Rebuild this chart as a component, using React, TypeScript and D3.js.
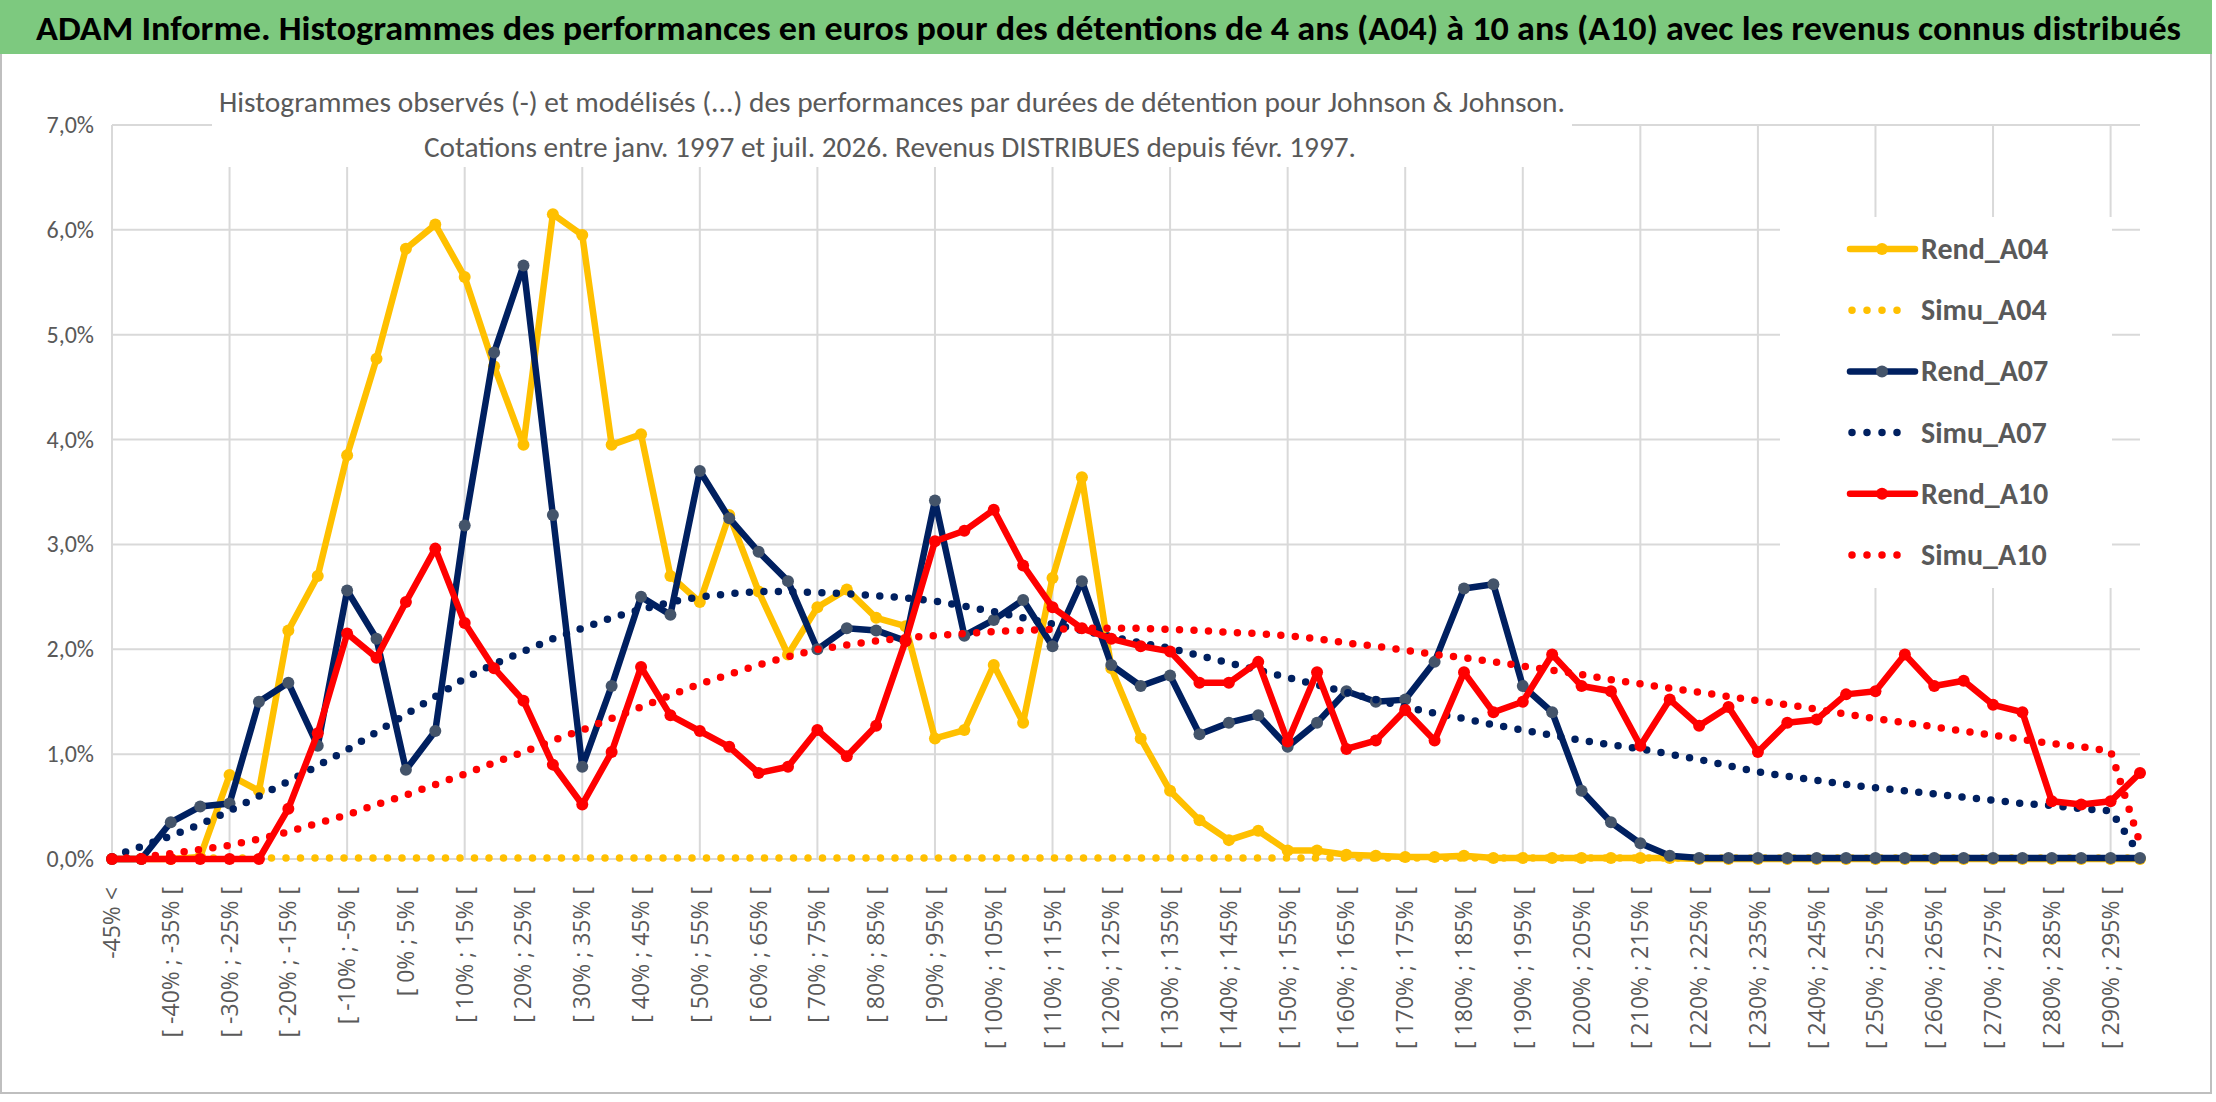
import React, { useEffect } from 'react';
import * as d3 from 'd3';

const W = 2216;
const H = 1102;

const categories: string[] = ['-45% <'];
for (let lo = -45; lo < 300; lo += 5) categories.push(`[ ${lo}% ; ${lo + 5}% [`);

const rendA04 = [0, 0, 0, 0.02, 0.8, 0.65, 2.18, 2.7, 3.85, 4.77, 5.82, 6.05, 5.55, 4.7, 3.95, 6.15, 5.95, 3.95, 4.05, 2.7,
  2.45, 3.28, 2.55, 1.95, 2.4, 2.57, 2.3, 2.22, 1.15, 1.23, 1.85, 1.3, 2.68, 3.64, 1.82, 1.15, 0.65, 0.37, 0.18, 0.27,
  0.08, 0.08, 0.04, 0.03, 0.02, 0.02, 0.03, 0.01, 0.01, 0.01, 0.01, 0.01, 0.01, 0.01, 0, 0, 0, 0, 0, 0,
  0, 0, 0, 0, 0, 0, 0, 0, 0, 0];
const simuA04 = categories.map(() => 0.01);
const rendA07 = [0, 0, 0.35, 0.5, 0.53, 1.5, 1.68, 1.08, 2.56, 2.1, 0.85, 1.22, 3.18, 4.83, 5.66, 3.28, 0.88, 1.65, 2.5, 2.33,
  3.7, 3.25, 2.93, 2.65, 2.0, 2.2, 2.18, 2.08, 3.42, 2.13, 2.28, 2.47, 2.03, 2.65, 1.85, 1.65, 1.75, 1.19, 1.3, 1.37,
  1.07, 1.3, 1.6, 1.5, 1.52, 1.88, 2.58, 2.62, 1.65, 1.4, 0.65, 0.35, 0.15, 0.03, 0.01, 0.01, 0.01, 0.01, 0.01, 0.01,
  0.01, 0.01, 0.01, 0.01, 0.01, 0.01, 0.01, 0.01, 0.01, 0.01];
const simuA07 = [0.02, 0.12, 0.22, 0.33, 0.46, 0.6, 0.74, 0.89, 1.04, 1.21, 1.38, 1.55, 1.72, 1.86, 1.98, 2.1, 2.2, 2.3, 2.38, 2.45,
  2.5, 2.53, 2.55, 2.55, 2.54, 2.53, 2.51, 2.49, 2.46, 2.41, 2.36, 2.3, 2.24, 2.18, 2.12, 2.06, 2.01, 1.94, 1.87, 1.8,
  1.73, 1.66, 1.59, 1.52, 1.45, 1.39, 1.34, 1.28, 1.23, 1.18, 1.13, 1.09, 1.05, 1.0, 0.95, 0.89, 0.83, 0.79, 0.75, 0.71,
  0.68, 0.65, 0.62, 0.59, 0.56, 0.53, 0.51, 0.48, 0.46, 0.04];
const rendA10 = [0, 0, 0, 0, 0, 0, 0.48, 1.2, 2.15, 1.92, 2.45, 2.96, 2.25, 1.82, 1.51, 0.9, 0.52, 1.02, 1.83, 1.37,
  1.22, 1.07, 0.82, 0.88, 1.23, 0.98, 1.27, 2.08, 3.03, 3.13, 3.33, 2.8, 2.4, 2.2, 2.1, 2.03, 1.98, 1.68, 1.68, 1.88,
  1.12, 1.78, 1.05, 1.13, 1.42, 1.13, 1.78, 1.4, 1.5, 1.95, 1.65, 1.6, 1.08, 1.52, 1.27, 1.45, 1.02, 1.3, 1.33, 1.57,
  1.6, 1.95, 1.65, 1.7, 1.47, 1.4, 0.55, 0.52, 0.55, 0.82];
const simuA10 = [0, 0.02, 0.05, 0.09, 0.13, 0.19, 0.26, 0.34, 0.42, 0.52, 0.61, 0.71, 0.81, 0.92, 1.02, 1.13, 1.23, 1.34, 1.45, 1.56,
  1.67, 1.76, 1.85, 1.93, 2.0, 2.04, 2.08, 2.11, 2.13, 2.15, 2.17, 2.18, 2.19, 2.2, 2.2, 2.2, 2.19, 2.18, 2.16, 2.15,
  2.13, 2.1, 2.06, 2.03, 1.99, 1.95, 1.92, 1.88, 1.84, 1.8, 1.76, 1.71, 1.67, 1.63, 1.59, 1.55, 1.51, 1.47, 1.43, 1.38,
  1.34, 1.3, 1.26, 1.22, 1.18, 1.14, 1.1, 1.07, 1.03, 0.15];

const yTicks = [0, 1, 2, 3, 4, 5, 6, 7];

const series = [
  { name: 'Rend_A04', values: rendA04, color: '#ffc000', marker: '#ffc000', dotted: false },
  { name: 'Simu_A04', values: simuA04, color: '#ffc000', marker: '', dotted: true },
  { name: 'Rend_A07', values: rendA07, color: '#002060', marker: '#44546a', dotted: false },
  { name: 'Simu_A07', values: simuA07, color: '#002060', marker: '', dotted: true },
  { name: 'Rend_A10', values: rendA10, color: '#ff0000', marker: '#ff0000', dotted: false },
  { name: 'Simu_A10', values: simuA10, color: '#ff0000', marker: '', dotted: true },
];

const title = 'ADAM Informe. Histogrammes des performances en euros pour des détentions de 4 ans (A04) à 10 ans (A10) avec les revenus connus distribués';
const sub1 = 'Histogrammes observés (-) et modélisés (...) des performances par durées de détention pour Johnson & Johnson.';
const sub2 = 'Cotations entre janv. 1997 et juil. 2026. Revenus DISTRIBUES depuis févr. 1997.';

export default function App() {
  useEffect(() => {
    document.body.style.margin = '0';
  }, []);

  const x = d3.scalePoint<number>().domain(d3.range(categories.length)).range([112, 2140]);
  const y = d3.scaleLinear().domain([0, 7]).range([859, 125]);
  const line = d3.line<number>().x((_, i) => x(i) as number).y(d => y(d));
  const font = 'Calibri, "Open Sans", "Noto Sans", sans-serif';
  const grey = '#595959';

  return (
    <svg width={W} height={H} style={{ display: 'block', fontFamily: font }}>
      <rect x={0} y={0} width={W} height={H} fill="#fff" />
      <rect x={1} y={1} width={W - 6} height={H - 10} fill="none" stroke="#bfbfbf" strokeWidth={2} />
      <rect x={0} y={0} width={W - 4} height={54} fill="#7dc97f" />
      <text x={36} y={40} fontSize={34} fontWeight={700} fill="#000" textLength={2145} lengthAdjust="spacingAndGlyphs">{title}</text>

      {yTicks.map(t => (
        <g key={t}>
          <line x1={112} x2={2140} y1={y(t)} y2={y(t)} stroke="#d9d9d9" strokeWidth={2} />
          <text x={94} y={y(t) + 8} fontSize={24} fill={grey} textAnchor="end">{t.toFixed(1).replace('.', ',')}%</text>
        </g>
      ))}
      {d3.range(0, categories.length, 4).map(i => (
        <line key={i} x1={x(i)} x2={x(i)} y1={y(7)} y2={y(0)} stroke="#d9d9d9" strokeWidth={2} />
      ))}
      {categories.map((c, i) => i % 2 === 0 ? (
        <text key={c} transform={`translate(${(x(i) as number) + 8},887) rotate(-90)`} fontSize={23} fill={grey}
          textAnchor="end" fontFamily='"Open Sans", sans-serif'>{c}</text>
      ) : null)}

      <rect x={212} y={75} width={1360} height={92} fill="#fff" />
      <text x={892} y={112} fontSize={29} fill={grey} textAnchor="middle" textLength={1346} lengthAdjust="spacingAndGlyphs">{sub1}</text>
      <text x={890} y={157} fontSize={29} fill={grey} textAnchor="middle" textLength={932} lengthAdjust="spacingAndGlyphs">{sub2}</text>

      <rect x={1780} y={217} width={332} height={371} fill="#fff" />

      {series.map(s => (
        <g key={s.name}>
          <path d={line(s.values) as string} fill="none" stroke={s.color}
            strokeWidth={s.dotted ? 7.5 : 6.5} strokeLinecap="round" strokeLinejoin="round"
            strokeDasharray={s.dotted ? '0 14.5' : undefined} />
          {!s.dotted && s.values.map((v, i) => (
            <circle key={i} cx={x(i)} cy={y(v)} r={6} fill={s.marker} />
          ))}
        </g>
      ))}

      {series.map((s, k) => {
        const ly = 249 + k * 61.2;
        return (
          <g key={s.name}>
            {s.dotted ? (
              <line x1={1852} x2={1912} y1={ly} y2={ly} stroke={s.color} strokeWidth={7.5} strokeLinecap="round" strokeDasharray="0 15" />
            ) : (
              <>
                <line x1={1850} x2={1915} y1={ly} y2={ly} stroke={s.color} strokeWidth={6.5} strokeLinecap="round" />
                <circle cx={1882} cy={ly} r={6} fill={s.marker} />
              </>
            )}
            <text x={1921} y={ly + 10} fontSize={30} fontWeight={600} fill={grey}>{s.name}</text>
          </g>
        );
      })}
    </svg>
  );
}
